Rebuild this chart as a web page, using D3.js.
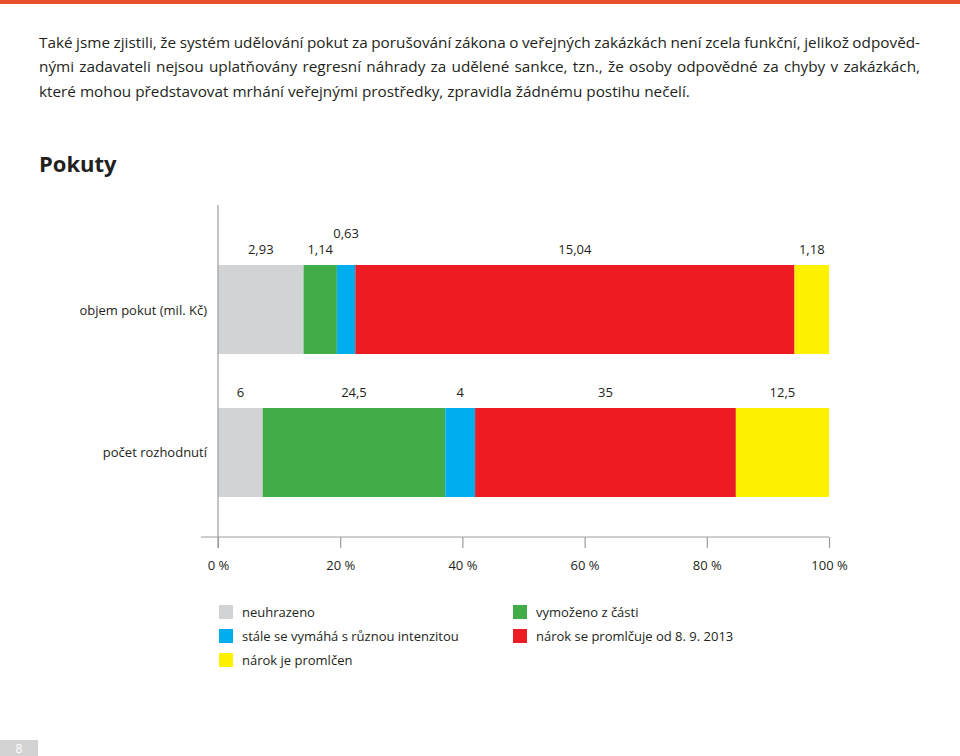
<!DOCTYPE html>
<html><head><meta charset="utf-8">
<script src="https://cdn.jsdelivr.net/npm/d3@7"></script>
<style>
body{margin:0;background:#fff;}
svg{display:block;font-family:"Open Sans","Noto Sans",sans-serif;}
</style></head><body>
<svg id="c" width="960" height="756"></svg>
<script>
const paragraph = [
  "Také jsme zjistili, že systém udělování pokut za porušování zákona o veřejných zakázkách není zcela funkční, jelikož odpověd-",
  "nými zadavateli nejsou uplatňovány regresní náhrady za udělené sankce, tzn., že osoby odpovědné za chyby v zakázkách,",
  "které mohou představovat mrhání veřejnými prostředky, zpravidla žádnému postihu nečelí."
];
const title = "Pokuty";
const categories = ["objem pokut (mil. Kč)", "počet rozhodnutí"];
const seriesNames = ["neuhrazeno", "vymoženo z části", "stále se vymáhá s různou intenzitou", "nárok se promlčuje od 8. 9. 2013", "nárok je promlčen"];
const colors = ["#d1d3d4", "#40ad4a", "#00aeef", "#ed1c24", "#fff200"];
const valuesObjem = [2.93, 1.14, 0.63, 15.04, 1.18];
const valuesPocet = [6, 24.5, 4, 35, 12.5];
const labelsObjem = ["2,93", "1,14", "0,63", "15,04", "1,18"];
const labelsPocet = ["6", "24,5", "4", "35", "12,5"];
const tickValues = [0, 20, 40, 60, 80, 100];
const tickLabels = ["0 %", "20 %", "40 %", "60 %", "80 %", "100 %"];
const legendOrder = [0, 1, 2, 3, 4];

const svg = d3.select("#c");
svg.append("rect").attr("x",0).attr("y",0).attr("width",960).attr("height",4).attr("fill","#e84f2d");

const pLines = [43, 67, 92];
paragraph.forEach((line, i) => {
  const t = svg.append("text").attr("x", 39).attr("y", pLines[i] + 5)
    .attr("font-size", 15.3).attr("fill", "#231f20").text(line);
  if (i < 2) {
    const w = t.node().getComputedTextLength();
    const spaces = (line.match(/ /g) || []).length;
    t.attr("word-spacing", (920 - 39 - w) / spaces);
  }
});

svg.append("text").attr("x", 39).attr("y", 172).attr("font-size", 22).attr("font-weight", 700)
  .attr("fill", "#231f20").text(title);

const x = d3.scaleLinear().domain([0, 100]).range([218, 829]);
const y = d3.scaleBand().domain(categories).range([265, 497]).paddingInner(0.3776).paddingOuter(0);

const rows = [
  {cat: categories[0], vals: valuesObjem, labels: labelsObjem},
  {cat: categories[1], vals: valuesPocet, labels: labelsPocet}
];
rows.forEach((r, ri) => {
  const total = d3.sum(r.vals);
  let cum = 0;
  const segs = r.vals.map((v, i) => {
    const s = {i, x0: cum / total * 100, x1: (cum + v) / total * 100, label: r.labels[i]};
    cum += v; return s;
  });
  const g = svg.append("g");
  g.selectAll("rect").data(segs).join("rect")
    .attr("x", d => x(d.x0)).attr("width", d => x(d.x1) - x(d.x0))
    .attr("y", y(r.cat)).attr("height", y.bandwidth())
    .attr("fill", d => colors[d.i]);
  g.selectAll("text.v").data(segs).join("text").attr("class","v")
    .attr("x", d => (x(d.x0) + x(d.x1)) / 2)
    .attr("y", d => y(r.cat) - 11 - ((ri === 0 && d.i === 2) ? 16 : 0))
    .attr("text-anchor", "middle").attr("font-size", 13).attr("fill", "#231f20")
    .text(d => d.label);
  svg.append("text").attr("x", 207).attr("y", y(r.cat) + y.bandwidth() / 2 + 5)
    .attr("text-anchor", "end").attr("font-size", 13).attr("fill", "#231f20").text(r.cat);
});

const axisColor = "#9d9d9d";
svg.append("line").attr("x1", 218).attr("x2", 218).attr("y1", 205).attr("y2", 548)
  .attr("stroke", axisColor).attr("stroke-width", 1.2);
svg.append("line").attr("x1", 201).attr("x2", 829).attr("y1", 537).attr("y2", 537)
  .attr("stroke", axisColor).attr("stroke-width", 1.2);
const ax = svg.append("g").attr("transform", "translate(0,537)")
  .call(d3.axisBottom(x).tickValues(tickValues).tickSize(11).tickFormat((d, i) => tickLabels[i]));
ax.select(".domain").remove();
ax.selectAll(".tick line").attr("stroke", axisColor).attr("stroke-width", 1.2);
ax.selectAll(".tick text").attr("font-size", 13).attr("fill", "#231f20")
  .attr("font-family", "Open Sans, sans-serif").attr("dy", "1.45em");

const legPos = [[219, 605], [513, 605], [219, 629], [513, 629], [219, 653]];
const lg = svg.append("g");
legendOrder.forEach((si, k) => {
  const [lx, ly] = legPos[k];
  lg.append("rect").attr("x", lx).attr("y", ly).attr("width", 14).attr("height", 14).attr("fill", colors[si]);
  lg.append("text").attr("x", lx + 23).attr("y", ly + 12).attr("font-size", 13).attr("fill", "#231f20").text(seriesNames[si]);
});

svg.append("rect").attr("x", 0).attr("y", 740).attr("width", 38).attr("height", 16).attr("fill", "#d3d3d3");
svg.append("text").attr("x", 19).attr("y", 753).attr("text-anchor", "middle").attr("font-size", 12)
  .attr("fill", "#fff").text("8");
</script>
</body></html>
